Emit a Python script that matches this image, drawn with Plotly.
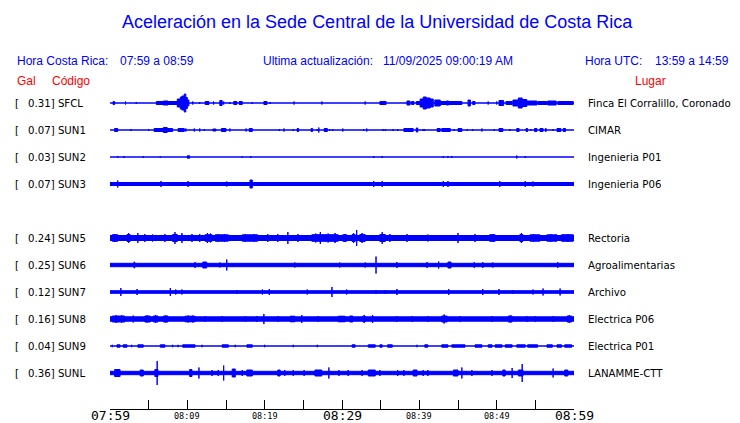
import plotly.graph_objects as go

BLUE = "rgb(0,0,255)"
RED = "rgb(255,0,0)"

# filas del registro (SUN4 sin datos, queda el hueco)
row_order = ["SFCL", "SUN1", "SUN2", "SUN3", "SUN4", "SUN5", "SUN6", "SUN7", "SUN8", "SUN9", "SUNL"]

codes = ["SFCL", "SUN1", "SUN2", "SUN3", "SUN5", "SUN6", "SUN7", "SUN8", "SUN9", "SUNL"]
gal = [0.31, 0.07, 0.03, 0.07, 0.24, 0.25, 0.12, 0.16, 0.04, 0.36]
places = ["Finca El Corralillo, Coronado", "CIMAR", "Ingenieria P01", "Ingenieria P06",
          "Rectoria", "Agroalimentarias", "Archivo", "Electrica P06", "Electrica P01",
          "LANAMME-CTT"]

# semi-amplitud del ruido de fondo (px)
base_amp = [0, 0, 0, 1.5, 2.5, 1.7, 1.3, 2.2, 0, 1.7]

# eventos: (minuto inicio, minuto fin, semi-amplitud px), minuto 0 = 07:59
sfcl_ev = [(0.4, 0.6, 1.5), (2.0, 2.0, 1.5), (3.4, 3.4, 1), (6.0, 6.9, 1.5), (6.9, 7.5, 2),
           (7.5, 8.7, 1.5), (8.7, 9.1, 4), (9.1, 9.3, 6), (9.3, 9.6, 7), (9.6, 9.8, 9),
           (9.8, 10.0, 5.5), (10.0, 10.2, 3), (10.7, 10.7, 1.5), (11.6, 11.6, 1),
           (12.3, 12.8, 1.5), (13.4, 13.4, 1.5), (14.2, 14.5, 2.5), (14.7, 14.7, 1.5),
           (15.5, 15.5, 1), (16.0, 16.4, 1.5), (16.7, 17.1, 1.5), (18.4, 18.4, 1),
           (19.9, 20.3, 1.5), (20.7, 20.7, 1), (23.8, 23.8, 1.5), (27.4, 27.4, 1.5),
           (33.0, 33.0, 1.5), (34.9, 35.7, 1.5), (38.4, 38.8, 2), (39.0, 39.3, 1.5),
           (39.6, 40.1, 1.5), (40.1, 40.5, 4), (40.5, 40.9, 6), (40.9, 41.4, 5),
           (41.4, 41.8, 4), (42.0, 42.7, 3), (42.7, 45.5, 1.5), (43.5, 43.8, 2),
           (46.3, 46.6, 3), (46.9, 47.2, 1.5), (48.9, 48.9, 1.5), (50.0, 50.0, 1.5),
           (50.3, 50.9, 2.5), (51.2, 52.0, 1.5), (52.1, 52.8, 3), (52.8, 53.3, 5),
           (53.3, 53.9, 3.5), (53.9, 55.2, 2), (55.3, 56.5, 1.5), (56.6, 57.7, 2),
           (57.9, 59.9, 1.5)]
sun1_ev = [(0.6, 1.0, 1.5), (2.7, 2.7, 1), (5.0, 5.0, 1), (5.7, 6.9, 1.5), (6.9, 7.4, 2.5),
           (7.4, 8.1, 1.5), (8.8, 9.6, 1.5), (9.8, 9.8, 1.5), (10.9, 10.9, 1.5),
           (11.6, 11.6, 1.5), (12.2, 12.2, 1), (13.3, 13.7, 1), (14.4, 15.0, 1.5),
           (15.5, 15.5, 1.5), (17.6, 17.6, 1.5), (18.0, 18.4, 1.5), (21.9, 21.9, 1),
           (22.5, 22.5, 1.5), (23.7, 23.7, 1), (24.2, 24.4, 1.5), (26.0, 26.2, 1.5),
           (26.8, 26.8, 1), (27.0, 27.0, 2.5), (27.7, 28.1, 1.5), (28.4, 28.4, 1),
           (28.8, 28.8, 1), (30.1, 30.1, 1.5), (32.8, 32.8, 1), (33.2, 33.2, 1.5),
           (35.3, 35.3, 1), (35.6, 35.6, 1), (36.6, 36.6, 1), (37.2, 37.2, 1),
           (38.0, 39.2, 1.5), (39.6, 39.8, 2), (40.5, 40.5, 1), (40.7, 40.7, 1),
           (42.3, 42.7, 1.5), (42.9, 44.0, 1.5), (44.5, 44.5, 1), (45.0, 45.5, 1.5),
           (46.2, 46.2, 1), (46.9, 46.9, 1), (48.1, 48.1, 1.5), (49.7, 49.7, 1),
           (50.3, 50.8, 1.5), (51.7, 51.7, 1), (52.6, 52.9, 1.5), (53.8, 54.0, 1.5),
           (54.4, 54.4, 1), (54.9, 55.2, 1.5), (55.6, 56.0, 1.5), (56.3, 56.4, 1.5),
           (57.3, 57.3, 1), (57.8, 58.3, 1.5), (58.6, 58.9, 1.5)]
sun2_ev = [(1.0, 1.0, 1), (1.8, 1.8, 1), (4.3, 4.3, 1), (6.5, 6.5, 0.7), (10.0, 10.3, 1.2),
           (17.1, 17.1, 0.7), (18.2, 18.2, 1), (34.1, 34.1, 1), (35.2, 35.2, 1),
           (43.1, 43.1, 1), (43.7, 43.7, 1), (44.2, 44.2, 1), (52.6, 52.6, 1.5),
           (53.7, 53.7, 1)]
sun3_ev = [(1.0, 1.0, 3.5), (6.6, 6.6, 3), (10.1, 10.1, 3), (15.1, 15.1, 2.5),
           (18.1, 18.4, 4), (34.1, 34.1, 3), (35.2, 35.2, 3), (43.1, 43.1, 3),
           (43.7, 43.7, 3), (50.4, 50.4, 3), (53.7, 53.7, 3), (54.7, 54.7, 2.5)]
sun5_ev = [(0.3, 1.0, 3.3), (0.6, 0.6, 4), (2.2, 2.6, 3.5), (2.4, 2.4, 5), (3.6, 3.6, 5),
           (4.5, 4.5, 4), (5.5, 5.5, 3.5), (7.1, 7.1, 4), (8.1, 8.7, 3.5), (8.4, 8.4, 6),
           (9.3, 9.3, 5), (10.6, 10.6, 4), (11.6, 11.6, 4), (12.3, 13.2, 3.3),
           (12.6, 12.6, 5), (13.0, 13.0, 4.5), (13.6, 15.3, 3.2), (14.0, 14.0, 4),
           (14.8, 14.8, 4), (17.1, 19.1, 3.2), (17.5, 17.5, 4), (18.6, 18.6, 4),
           (20.4, 20.4, 4), (21.7, 21.7, 4), (23.0, 23.0, 6), (24.3, 24.3, 4),
           (26.1, 29.5, 3.3), (26.6, 26.6, 4.5), (27.2, 27.2, 6), (28.2, 28.2, 4.5),
           (29.1, 29.1, 5), (30.1, 30.6, 3.3), (30.4, 30.4, 4), (31.3, 31.7, 3.5),
           (31.5, 31.5, 5), (31.9, 31.9, 8), (32.3, 33.0, 3.5), (32.6, 32.6, 5),
           (34.9, 35.6, 3.5), (35.2, 35.2, 6), (36.2, 36.2, 4), (38.4, 38.4, 4),
           (41.1, 41.1, 3.5), (45.0, 45.0, 5), (47.2, 47.2, 4), (49.1, 49.8, 3.3),
           (49.5, 49.5, 4), (53.0, 53.4, 3.5), (53.2, 53.2, 5), (54.3, 55.6, 3.2),
           (54.8, 54.8, 4), (56.5, 57.8, 3.2), (57.0, 57.0, 4), (58.4, 59.9, 3.3),
           (59.2, 59.2, 4)]
sun6_ev = [(3.1, 3.2, 3), (11.0, 11.0, 3), (12.0, 12.5, 3), (14.2, 14.2, 2.5),
           (15.1, 15.1, 5.5), (23.9, 23.9, 2.5), (29.7, 29.7, 2.5), (33.0, 33.0, 2.5),
           (34.4, 34.4, 8.5), (37.1, 37.1, 3), (41.0, 41.0, 3), (42.5, 42.5, 3.5),
           (43.7, 44.1, 3), (47.1, 47.1, 3), (48.2, 48.2, 3), (49.5, 49.5, 2.5),
           (57.9, 57.9, 3)]
sun7_ev = [(1.4, 1.4, 4), (3.5, 3.5, 3), (7.8, 7.8, 4), (8.5, 8.5, 2.5), (9.3, 9.3, 2.5),
           (16.4, 16.4, 2), (19.7, 19.7, 2.5), (20.6, 20.6, 3), (25.5, 25.5, 2.5),
           (28.7, 28.7, 5), (30.6, 30.6, 2.5), (34.4, 34.4, 2), (35.6, 35.6, 2),
           (37.1, 37.1, 3), (43.8, 43.8, 3), (48.2, 48.2, 3), (50.3, 50.3, 3),
           (52.1, 52.1, 2), (54.7, 54.7, 2.5), (56.0, 56.0, 3.5), (58.2, 58.2, 3.5)]
sun8_ev = [(0.3, 1.9, 3), (0.8, 0.8, 4), (1.5, 1.5, 4), (3.0, 3.0, 3.5), (4.5, 5.2, 3),
           (4.8, 4.8, 3.5), (5.6, 6.2, 3), (5.9, 5.9, 4), (6.9, 7.5, 3), (7.2, 7.2, 3.5),
           (9.7, 11.0, 2.8), (10.1, 10.1, 3.5), (10.7, 10.7, 3.5), (12.3, 12.3, 3),
           (14.5, 14.5, 3), (17.5, 17.5, 3), (19.0, 19.0, 3), (19.9, 19.9, 5),
           (21.7, 21.7, 3), (23.3, 23.9, 2.8), (23.6, 23.6, 3), (24.8, 24.8, 4),
           (26.9, 26.9, 3), (29.5, 30.4, 2.8), (30.0, 30.0, 3), (31.0, 31.4, 3),
           (32.7, 33.0, 3), (32.9, 32.9, 4), (33.9, 34.0, 3.5), (37.1, 37.1, 3),
           (39.1, 39.1, 3), (41.1, 41.1, 3), (42.9, 43.6, 3), (43.2, 43.2, 4.5),
           (45.3, 45.3, 3), (49.4, 49.4, 3), (51.5, 52.0, 3), (51.8, 51.8, 3.5),
           (53.9, 53.9, 3), (55.0, 55.0, 3), (57.3, 57.3, 3), (59.1, 59.7, 3),
           (59.4, 59.4, 4)]
sun9_ev = [(0.3, 0.3, 1.2), (0.9, 1.3, 1.2), (1.7, 2.2, 1.2), (2.8, 2.8, 1.2), (3.6, 4.3, 1.2),
           (6.5, 7.1, 1.2), (8.1, 8.1, 1.2), (8.8, 8.8, 1.2), (9.4, 11.0, 1.2),
           (11.9, 11.9, 1.2), (14.5, 15.3, 1.2), (16.2, 16.2, 1.2), (17.7, 18.4, 1.2),
           (20.0, 20.0, 1.2), (23.7, 23.7, 1.2), (26.8, 26.8, 1.2), (31.3, 31.7, 1.2),
           (33.4, 34.3, 1.2), (34.9, 35.2, 1.2), (35.9, 36.5, 1.2), (39.7, 39.7, 1.2),
           (40.7, 41.1, 1.2), (42.9, 43.7, 1.2), (44.2, 45.9, 1.2), (47.2, 48.1, 1.2),
           (48.9, 49.4, 1.2), (49.8, 50.7, 1.2), (51.1, 52.0, 1.2), (52.6, 53.7, 1.2),
           (54.0, 55.3, 1.2), (56.5, 57.2, 1.2), (57.8, 58.4, 1.2), (58.8, 59.7, 1.2)]
sunl_ev = [(0.6, 1.3, 3.5), (3.9, 4.3, 3), (5.8, 6.2, 3.5), (6.1, 6.1, 12), (10.3, 10.6, 3.5),
           (11.5, 11.5, 5.5), (13.2, 13.2, 3), (14.0, 14.0, 3), (14.7, 14.7, 7.5),
           (15.8, 16.2, 4), (17.1, 17.1, 3), (17.7, 18.4, 3), (21.7, 22.0, 3),
           (22.6, 22.6, 3), (23.7, 23.7, 3), (25.1, 25.1, 3), (26.5, 27.4, 3),
           (28.3, 28.3, 5.5), (29.6, 29.6, 3), (30.8, 30.8, 3), (32.6, 32.6, 3),
           (33.4, 34.3, 3), (34.9, 34.9, 3), (37.2, 37.2, 3), (38.0, 38.0, 3),
           (39.2, 39.7, 3), (40.5, 40.5, 3), (41.1, 41.1, 3), (44.4, 45.0, 3),
           (45.5, 45.5, 5.5), (46.8, 46.8, 3), (49.4, 49.4, 3), (50.8, 51.1, 3),
           (52.0, 52.0, 5), (52.8, 53.4, 3), (53.3, 53.3, 9), (57.3, 57.3, 4.5),
           (58.8, 59.2, 3)]

events = [sfcl_ev, sun1_ev, sun2_ev, sun3_ev, sun5_ev, sun6_ev, sun7_ev, sun8_ev, sun9_ev, sunl_ev]

tick_min = [0, 10, 20, 30, 40, 50, 60]
tick_text = ["07:59", "08:09", "08:19", "08:29", "08:39", "08:49", "08:59"]
big_ticks = ["07:59", "08:29", "08:59"]

ROW = 27  # separacion entre trazas en px


def fx(px):
    return (px - 110) / 464


def fy(py):
    return (409 - py) / 321


fig = go.Figure()

for i, code in enumerate(codes):
    c = -ROW * row_order.index(code)
    xs, ys = [], []
    for t0, t1, a in [(0, 60, base_amp[i])] + events[i]:
        xs += [t0, t1, t1, t0, t0, None]
        ys += [c - a, c - a, c + a, c + a, c - a, None]
    fig.add_trace(
        go.Scatter(
            x=xs,
            y=ys,
            mode="lines",
            fill="toself",
            fillcolor=BLUE,
            line=dict(color=BLUE, width=1),
            hoverinfo="skip",
            showlegend=False,
        )
    )

ann = []
lab_font = dict(family="DejaVu Sans", size=10.2, color="black")
for i, code in enumerate(codes):
    c = -ROW * row_order.index(code)
    ann.append(dict(x=fx(13), y=c, xref="paper", yref="y", text="[", showarrow=False,
                    xanchor="left", yanchor="middle", font=lab_font))
    ann.append(dict(x=fx(26), y=c, xref="paper", yref="y", text=f"{gal[i]:.2f}] {code}",
                    showarrow=False, xanchor="left", yanchor="middle", font=lab_font))
    ann.append(dict(x=fx(586), y=c, xref="paper", yref="y", text=places[i], showarrow=False,
                    xanchor="left", yanchor="middle", font=lab_font))

for t, txt in zip(tick_min, tick_text):
    big = txt in big_ticks
    ann.append(dict(x=t, y=fy(416), xref="x", yref="paper", text=txt, showarrow=False,
                    xanchor="center", yanchor="middle",
                    font=dict(family="DejaVu Sans Mono", size=13 if big else 8.5, color="black")))

head_font = dict(family="Liberation Sans, Arial", size=12, color=BLUE)
header = [(15, "Hora Costa Rica:"), (118, "07:59 a 08:59"), (261, "Ultima actualización:"),
          (381, "11/09/2025 09:00:19 AM"), (583, "Hora UTC:"), (653, "13:59 a 14:59")]
for px, txt in header:
    ann.append(dict(x=fx(px), y=fy(61), xref="paper", yref="paper", text=txt, showarrow=False,
                    xanchor="left", yanchor="middle", font=head_font))

red_font = dict(family="Liberation Sans, Arial", size=12, color=RED)
for px, txt in [(15, "Gal"), (50, "Código"), (633, "Lugar")]:
    ann.append(dict(x=fx(px), y=fy(81), xref="paper", yref="paper", text=txt, showarrow=False,
                    xanchor="left", yanchor="middle", font=red_font))

ann.append(dict(x=fx(377), y=fy(22), xref="paper", yref="paper",
                text="Aceleración en la Sede Central de la Universidad de Costa Rica",
                showarrow=False, xanchor="center", yanchor="middle",
                font=dict(family="Liberation Sans, Arial", size=18, color=BLUE)))

fig.update_layout(
    width=740,
    height=423,
    margin=dict(l=110, r=166, t=88, b=14),
    paper_bgcolor="white",
    plot_bgcolor="white",
    showlegend=False,
    annotations=ann,
)
fig.update_xaxes(
    range=[0, 60],
    showgrid=False,
    zeroline=False,
    showline=True,
    linecolor="black",
    linewidth=1,
    ticks="inside",
    ticklen=9,
    tickwidth=1,
    tickcolor="black",
    tickvals=list(range(0, 61, 5)),
    showticklabels=False,
    fixedrange=True,
)
fig.update_yaxes(range=[-306, 15], visible=False, fixedrange=True)

# la pagina por defecto deja 8 px de margen en el body
fig.write_html(
    "out.html",
    config={"displayModeBar": False},
    post_script="document.body.style.margin='0px';",
)
